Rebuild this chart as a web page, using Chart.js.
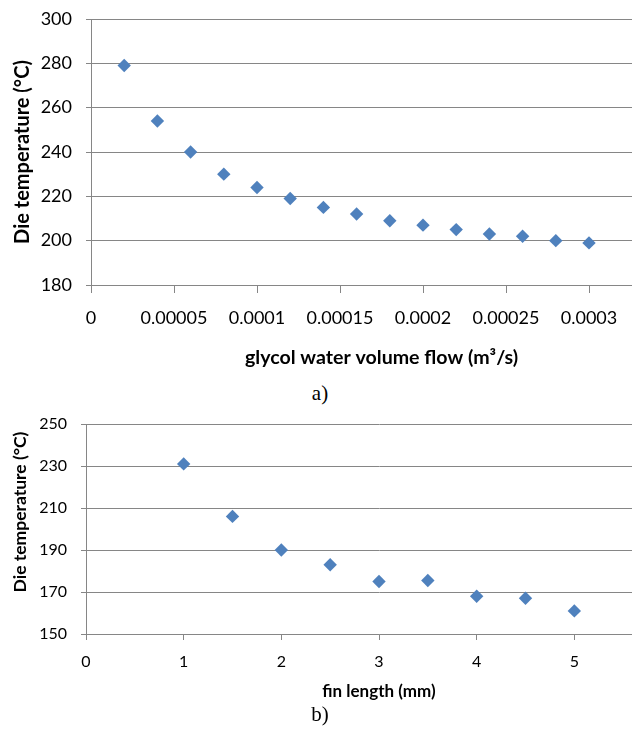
<!DOCTYPE html>
<html>
<head>
<meta charset="utf-8">
<script src="https://cdn.jsdelivr.net/npm/chart.js@4.4.0/dist/chart.umd.min.js"></script>
<style>
  html, body { margin: 0; padding: 0; background: #fff; overflow: hidden; width: 632px; height: 731px; }
  .box { position: absolute; left: 0; width: 720px; }
  #boxA { top: 0; height: 380px; }
  #boxB { top: 400px; height: 310px; }
  .cap { position: absolute; left: 0; width: 640px; text-align: center;
         font-family: "Liberation Serif", "Times New Roman", serif; font-size: 21px; line-height: 24px; color: #000; }
</style>
</head>
<body>
<div class="box" id="boxA"><canvas id="chartA"></canvas></div>
<div class="cap" style="top:381px">a)</div>
<div class="box" id="boxB"><canvas id="chartB"></canvas></div>
<div class="cap" style="top:702px">b)</div>
<script>
// a) glycol water volume flow vs die temperature
const flow = [0.00002, 0.00004, 0.00006, 0.00008, 0.0001, 0.00012, 0.00014, 0.00016,
              0.00018, 0.0002, 0.00022, 0.00024, 0.00026, 0.00028, 0.0003];
const tempFlow = [279, 254, 240, 230, 224, 219, 215, 212, 209, 207, 205, 203, 202, 200, 199];
const flowTicks = ['0', '0.00005', '0.0001', '0.00015', '0.0002', '0.00025', '0.0003', '0.00035'];
const tempFlowTicks = ['180', '200', '220', '240', '260', '280', '300'];

// b) fin length vs die temperature
const finLength = [1, 1.5, 2, 2.5, 3, 3.5, 4, 4.5, 5];
const tempFin = [231, 206, 190, 183, 175, 175.5, 168, 167, 161];
const finTicks = ['0', '1', '2', '3', '4', '5', '6'];
const tempFinTicks = ['150', '170', '190', '210', '230', '250'];

const gridCol = '#868686';
const blue = '#4F81BD';
const fam = 'Lato, "Open Sans", sans-serif';

function makeChart(id, xs, ys, o) {
  const pts = xs.map((x, i) => ({ x: x, y: ys[i] }));
  return new Chart(document.getElementById(id), {
    type: 'scatter',
    data: {
      datasets: [{
        data: pts,
        pointStyle: 'rectRot',
        pointRadius: o.r,
        pointHoverRadius: o.r,
        backgroundColor: blue,
        borderColor: blue,
        borderWidth: 0,
        showLine: false
      }]
    },
    options: {
      responsive: true,
      maintainAspectRatio: false,
      animation: false,
      events: [],
      layout: { padding: { top: o.padTop, right: 48, bottom: 0, left: 0 } },
      plugins: { legend: { display: false }, tooltip: { enabled: false } },
      scales: {
        x: {
          type: 'linear',
          min: o.xMin, max: o.xMax,
          afterFit: s => { s.height = o.xH; },
          grid: { drawOnChartArea: false, drawTicks: true, tickLength: o.xTick, color: gridCol },
          border: { display: true, color: gridCol, width: 1 },
          ticks: {
            stepSize: o.xStep, padding: o.xPad, color: '#000',
            font: { family: fam, size: o.tickSize },
            maxRotation: 0, autoSkip: false,
            callback: (v, i) => o.xLabels[i]
          },
          title: {
            display: true, text: o.xTitle, color: '#000',
            font: { family: fam, size: o.xTitleSize, weight: 'bold' },
            padding: { top: 0, bottom: o.xTitlePad }
          }
        },
        y: {
          min: o.yMin, max: o.yMax,
          afterFit: s => { s.width = o.yW; s.paddingTop = 0; s.paddingBottom = 0; },
          grid: { color: gridCol, tickLength: 5, lineWidth: 1 },
          border: { display: true, color: gridCol, width: 1 },
          ticks: {
            stepSize: o.yStep, padding: 14, color: '#000',
            font: { family: fam, size: o.tickSize },
            callback: (v, i) => o.yLabels[i]
          },
          title: {
            display: true, text: o.yTitle, color: '#000',
            font: { family: fam, size: o.yTitleSize, weight: 'bold' },
            padding: { top: o.yTitlePad, bottom: 0 }
          }
        }
      }
    }
  });
}

makeChart('chartA', flow, tempFlow, {
  r: 6.7, padTop: 19, xMin: 0, xMax: 0.00035, xStep: 0.00005, yMin: 180, yMax: 300, yStep: 20,
  xH: 95, yW: 91, xTick: 8, xPad: 14, tickSize: 18,
  xLabels: flowTicks, yLabels: tempFlowTicks,
  xTitle: 'glycol water volume flow (m³/s)', xTitleSize: 19.6, xTitlePad: 11,
  yTitle: 'Die temperature (°C)', yTitleSize: 20, yTitlePad: 11
});

makeChart('chartB', finLength, tempFin, {
  r: 6.7, padTop: 24, xMin: 0, xMax: 6, xStep: 1, yMin: 150, yMax: 250, yStep: 20,
  xH: 76, yW: 86, xTick: 6, xPad: 12, tickSize: 16,
  xLabels: finTicks, yLabels: tempFinTicks,
  xTitle: 'fin length (mm)', xTitleSize: 17, xTitlePad: 8,
  yTitle: '        Die temperature (°C)', yTitleSize: 17.5, yTitlePad: 10
});
</script>
</body>
</html>
